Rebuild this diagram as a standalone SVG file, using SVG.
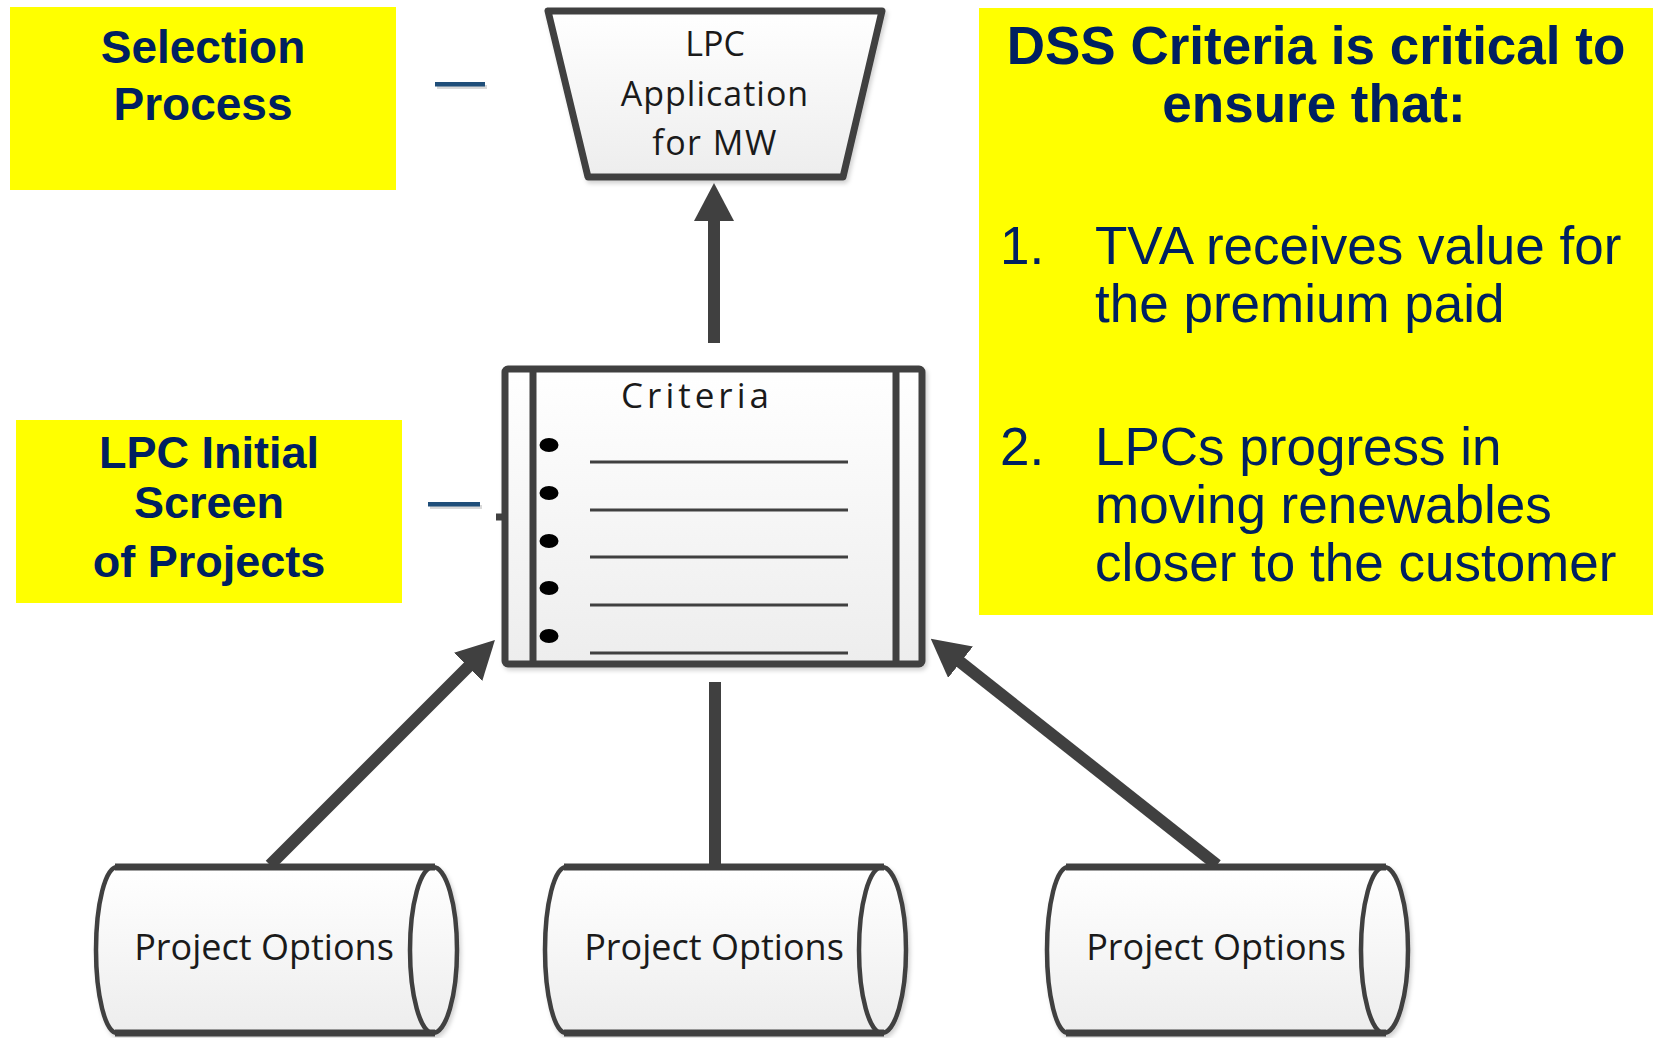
<svg xmlns="http://www.w3.org/2000/svg" width="1655" height="1038" viewBox="0 0 1655 1038">
<defs>
<style>
.yb{fill:#ffff00}
.hb{font-family:"Liberation Sans",Arial,sans-serif;font-weight:bold;fill:#002060;text-anchor:middle}
.hr{font-family:"Liberation Sans",Arial,sans-serif;fill:#002060;font-size:53px}
.sh{fill:url(#g);stroke:#404040;stroke-linejoin:round}
.lbl{font-family:"Open Sans","Noto Sans",sans-serif;fill:#1a1a1a;text-anchor:middle}
.con{stroke:#404040;stroke-width:12;fill:none}
.dash{fill:#1f4e79}
.dsh{fill:#000;opacity:0.15}
.rule{stroke:#404040;stroke-width:3}
</style>
<linearGradient id="g" x1="0" y1="0" x2="0" y2="1">
<stop offset="0" stop-color="#ffffff"/>
<stop offset="1" stop-color="#ededed"/>
</linearGradient>
<filter id="ds" x="-10%" y="-10%" width="130%" height="130%">
<feDropShadow dx="2" dy="3" stdDeviation="2" flood-color="#000" flood-opacity="0.18"/>
</filter>
<marker id="ah" viewBox="0 0 38 40" refX="2" refY="20" markerWidth="38" markerHeight="40" markerUnits="userSpaceOnUse" orient="auto">
<path d="M0,0 L38,20 L0,40 Z" fill="#404040"/>
</marker>
</defs>

<g id="selection-process">
<rect class="yb" x="10" y="7" width="386" height="183"/>
<text class="hb" font-size="46" x="203" y="63">Selection</text>
<text class="hb" font-size="46" x="203" y="120">Process</text>
<rect class="dsh" x="437" y="85" width="50" height="4"/>
<rect class="dash" x="435" y="82" width="50" height="4.5"/>
</g>

<g id="lpc-initial-screen">
<rect class="yb" x="16" y="420" width="386" height="183"/>
<text class="hb" font-size="45" x="209" y="468">LPC Initial</text>
<text class="hb" font-size="45" x="209" y="518">Screen</text>
<text class="hb" font-size="45" x="209" y="577">of Projects</text>
<rect class="dsh" x="430" y="505" width="52" height="4"/>
<rect class="dash" x="428" y="502" width="52" height="4.5"/>
</g>

<g id="dss-criteria-note">
<rect class="yb" x="979" y="8" width="674" height="607"/>
<text class="hb" font-size="53" x="1316" y="64">DSS Criteria is critical to</text>
<text class="hb" font-size="53" x="1314" y="122">ensure that:</text>
<text class="hr" x="1000" y="264">1.</text>
<text class="hr" x="1095" y="264">TVA receives value for</text>
<text class="hr" x="1095" y="322">the premium paid</text>
<text class="hr" x="1000" y="465">2.</text>
<text class="hr" x="1095" y="465">LPCs progress in</text>
<text class="hr" x="1095" y="523">moving renewables</text>
<text class="hr" x="1095" y="581">closer to the customer</text>
</g>

<g id="lpc-application">
<polygon class="sh" stroke-width="7" points="548,11 882,11 843,177 588,177" filter="url(#ds)"/>
<text class="lbl" font-size="34" x="715" y="56">LPC</text>
<text class="lbl" font-size="34" x="715" y="106" letter-spacing="1">Application</text>
<text class="lbl" font-size="34" x="715" y="155" letter-spacing="1.5">for MW</text>
</g>

<g id="criteria">
<rect class="sh" x="505" y="369" width="417" height="295" rx="3" stroke-width="7" filter="url(#ds)"/>
<line x1="533" y1="369" x2="533" y2="664" stroke="#404040" stroke-width="7"/>
<line x1="896" y1="369" x2="896" y2="664" stroke="#404040" stroke-width="7"/>
<line x1="496" y1="517" x2="505" y2="517" stroke="#404040" stroke-width="7"/>
<text class="lbl" font-size="35" x="697" y="408" letter-spacing="4">Criteria</text>
<g fill="#000">
<ellipse cx="549" cy="445" rx="9.5" ry="7"/>
<ellipse cx="549" cy="493" rx="9.5" ry="7"/>
<ellipse cx="549" cy="541" rx="9.5" ry="7"/>
<ellipse cx="549" cy="588" rx="9.5" ry="7"/>
<ellipse cx="549" cy="636" rx="9.5" ry="7"/>
</g>
<line class="rule" x1="590" y1="462" x2="848" y2="462"/>
<line class="rule" x1="590" y1="510" x2="848" y2="510"/>
<line class="rule" x1="590" y1="557" x2="848" y2="557"/>
<line class="rule" x1="590" y1="605" x2="848" y2="605"/>
<line class="rule" x1="590" y1="653" x2="848" y2="653"/>
</g>

<g id="connectors">
<line class="con" x1="714" y1="343" x2="714" y2="219" marker-end="url(#ah)"/>
<line class="con" x1="270" y1="865" x2="469.5" y2="665.5" marker-end="url(#ah)"/>
<line class="con" x1="715" y1="682" x2="715" y2="872"/>
<line class="con" x1="1217" y1="865" x2="959" y2="661" marker-end="url(#ah)"/>
</g>

<g id="project-options-1">
<path class="sh" stroke-width="4.5" d="M117,867 L433,867 A24,83 0 0 1 433,1033 L117,1033 A21,83 0 0 1 117,867 Z" filter="url(#ds)"/>
<path d="M433,1033 A23,83 0 0 1 433,867" fill="none" stroke="#404040" stroke-width="4.5"/>
<line x1="115" y1="867" x2="435" y2="867" stroke="#404040" stroke-width="7"/>
<line x1="115" y1="1033" x2="435" y2="1033" stroke="#404040" stroke-width="7"/>
<text class="lbl" font-size="36" x="264" y="960">Project Options</text>
</g>

<g id="project-options-2">
<path class="sh" stroke-width="4.5" d="M566,867 L882,867 A24,83 0 0 1 882,1033 L566,1033 A21,83 0 0 1 566,867 Z" filter="url(#ds)"/>
<path d="M882,1033 A23,83 0 0 1 882,867" fill="none" stroke="#404040" stroke-width="4.5"/>
<line x1="564" y1="867" x2="884" y2="867" stroke="#404040" stroke-width="7"/>
<line x1="564" y1="1033" x2="884" y2="1033" stroke="#404040" stroke-width="7"/>
<text class="lbl" font-size="36" x="714" y="960">Project Options</text>
</g>

<g id="project-options-3">
<path class="sh" stroke-width="4.5" d="M1068,867 L1384,867 A24,83 0 0 1 1384,1033 L1068,1033 A21,83 0 0 1 1068,867 Z" filter="url(#ds)"/>
<path d="M1384,1033 A23,83 0 0 1 1384,867" fill="none" stroke="#404040" stroke-width="4.5"/>
<line x1="1066" y1="867" x2="1386" y2="867" stroke="#404040" stroke-width="7"/>
<line x1="1066" y1="1033" x2="1386" y2="1033" stroke="#404040" stroke-width="7"/>
<text class="lbl" font-size="36" x="1216" y="960">Project Options</text>
</g>
</svg>
